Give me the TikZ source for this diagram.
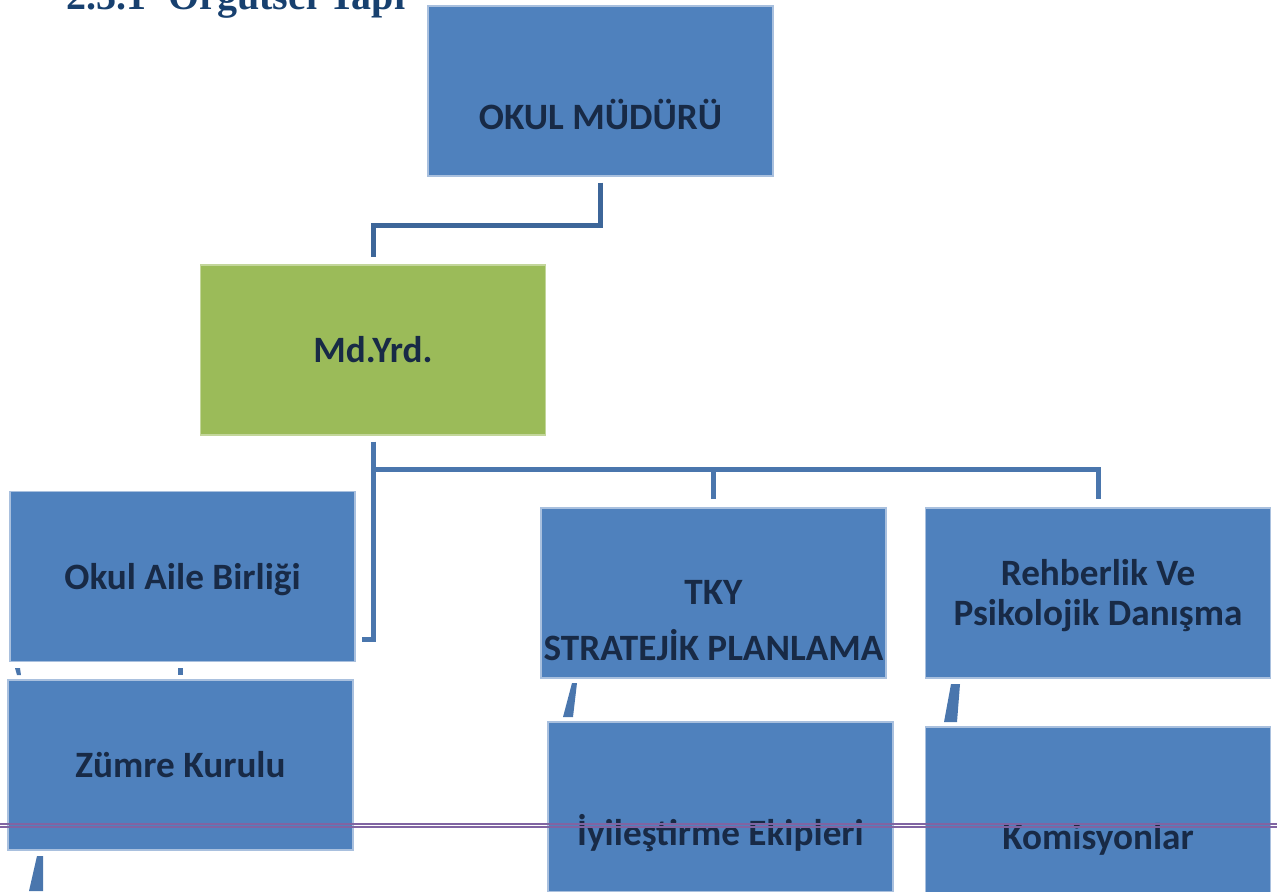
\documentclass[tikz,border=0pt]{standalone}
\usepackage{fontspec}
\setmainfont{Carlito}
\newfontfamily\headfont{Liberation Serif}
\usepackage{xcolor}
\usepackage{tikz}
\usetikzlibrary{positioning,calc}
\definecolor{oblue}{HTML}{4F81BD}
\definecolor{ogreen}{HTML}{9BBB59}
\definecolor{oedge}{HTML}{A9C0DE}
\definecolor{oline}{HTML}{4A76AD}
\definecolor{olinedk}{HTML}{3D6699}
\definecolor{otext}{HTML}{182A46}
\definecolor{ohead}{HTML}{17406F}
\definecolor{opurple}{HTML}{8064A2}

\begin{document}
\begin{tikzpicture}[x=0.5pt,y=-0.5pt,
    orgbox/.style={draw=oedge,line width=0.6pt,fill=oblue,
      minimum width=172.5pt,minimum height=85pt,inner sep=0pt},
    orgtxt/.style={anchor=base,text=otext,align=center,inner sep=0pt,
      font=\bfseries\fontsize{18.6}{20}\selectfont},
    link/.style={oline,line width=2.5pt},
    stub/.style={fill=oline}]
      \useasboundingbox (0,0) rectangle (1277,891);

      % heading, cut off by the page edge
      \node[anchor=base west,inner sep=0pt,text=ohead,
        font=\headfont\bfseries\fontsize{20}{22}\selectfont]
        (head) at (66,9) {2.3.1\hspace{0.3em} Örgütsel Yapı};

      % boxes
      \node[orgbox] (mudur) at (600.5,91) {};
      \node[orgbox,fill=ogreen,draw=ogreen!60] (yrd) at (373,350) {};
      \node[orgbox] (aile) at (182.5,576.5) {};
      \node[orgbox] (zumre) at (180.5,765) {};
      \node[orgbox] (tky) at (713.5,593) {};
      \node[orgbox] (rehber) at (1098,593) {};
      \node[orgbox] (iyi) at (720.5,807) {};
      \node[orgbox] (komis) at (1098,812) {};

      % box texts (base = last line)
      \node[orgtxt] (mudurt) at (600.5,129) {OKUL MÜDÜRÜ};
      \node[orgtxt] (yrdt) at (373,362) {Md.Yrd.};
      \node[orgtxt] (ailet) at (182.5,589) {Okul Aile Birliği};
      \node[orgtxt] (zumret) at (180.5,777) {Zümre Kurulu};
      \node[orgtxt] (tkyt) at (713.5,660) {TKY\\[8pt]STRATEJİK PLANLAMA};
      \node[orgtxt] (rehbert) at (1098,625) {Rehberlik Ve\\Psikolojik Danışma};
      \node[orgtxt] (iyit) at (720.5,845) {İyileştirme Ekipleri};
      \node[orgtxt] (komist) at (1098,849) {Komisyonlar};

      % director down to deputy
      \draw[link,olinedk] ($(mudur.south)+(0,6)$) |- (373,225)
        -- ($(yrd.north)+(0,-7)$);

      % deputy out to the units
      \draw[link] ($(yrd.south)+(0,6)$) |- ($(aile.east)+(6,63)$);
      \draw[link] (373,469) -| ($(tky.north)+(0,-8)$);
      \draw[link] (373,469) -| ($(rehber.north)+(0,-8)$);

      % broken connector pieces
      \fill[stub] (15,668) -- (20,668) -- (21,675) -- (17,675) -- cycle;
      \fill[stub] (178,668) -- (183,668) -- (183,675) -- (178,675) -- cycle;
      \fill[stub] (572,683) -- (577,683) -- (573,717) -- (563,717) -- cycle;
      \fill[stub] (951,684) -- (960,684) -- (957,722) -- (944,722) -- cycle;
      \fill[stub] (37,856) -- (43,856) -- (43,891) -- (29,891) -- cycle;

      % page rule over everything
      \draw[opurple,line width=1pt] (0,823.5) -- (1277,823.5);
      \draw[opurple,line width=0.7pt] (0,827) -- (1277,827);
    \end{tikzpicture}
\end{document}
